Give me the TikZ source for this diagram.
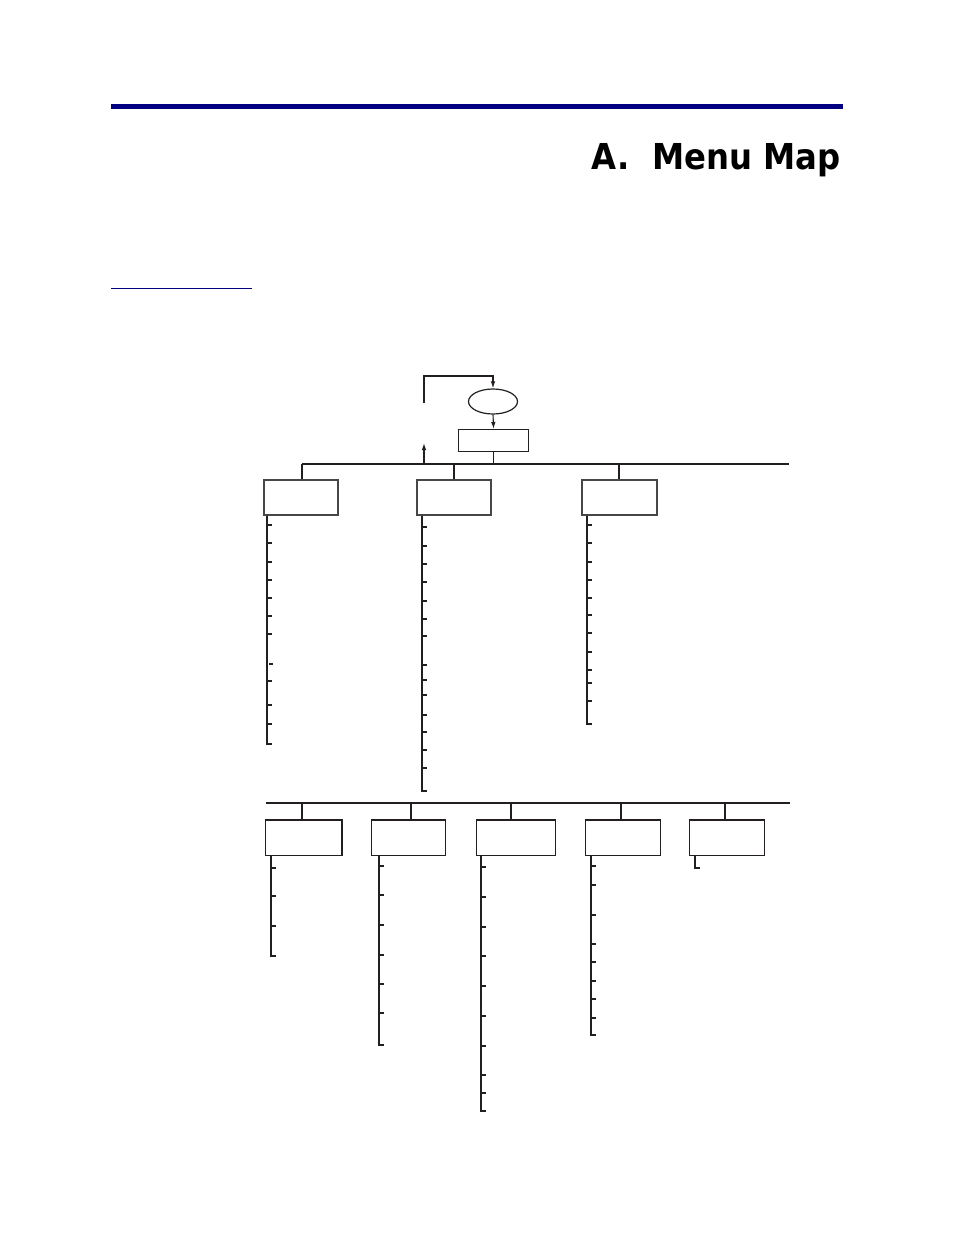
\documentclass[tikz,border=0pt]{standalone}
\usepackage{fontspec}
\newfontfamily\titlefont{DejaVu Sans}
\usetikzlibrary{arrows.meta,shapes.geometric}
\definecolor{barblue}{RGB}{0,0,128}
\definecolor{ink}{RGB}{35,31,32}
\begin{document}
\begin{tikzpicture}[x=1pt,y=-1pt,line width=1.1pt,draw=ink,
  topbox/.style={draw=black!72,line width=1.5pt,minimum width=74pt,minimum height=35pt,inner sep=0pt,anchor=north west},
  lowbox/.style={draw=ink,line width=1.2pt,minimum height=36pt,inner sep=0pt,anchor=north west},
  arr/.style={-{Latex[length=7pt,width=4.5pt]}},
  tick/.style={draw=ink,line width=1.1pt}]
\useasboundingbox (0,0) rectangle (954,1235);
% header
\fill[barblue] (111,104) rectangle (843,108.5);
\node[anchor=base east,inner sep=0pt,text=black] (title) at (841,169)
  {\scalebox{0.905}[1]{\titlefont\bfseries\fontsize{35.7}{40}\selectfont A.\ \ Menu Map}};
\draw[barblue,line width=1pt] (111,288) -- (252,288);
% top of tree
\node[ellipse,draw=ink,line width=1.2pt,minimum width=49pt,minimum height=25pt,inner sep=0pt] (start) at (493,401.5) {};
\node[draw=ink,line width=1.2pt,minimum width=70pt,minimum height=22pt,inner sep=0pt,anchor=north west] (main) at (458,429) {};
\coordinate (loopA) at (424,403);
\coordinate (loopB) at (424,376);
\draw[arr] (loopA) -- (loopB) -| (start.north);
\draw[arr] (start.south) -- (main.north);
\coordinate (busL) at (302,464);
\coordinate (busR) at (789,464);
\draw (busL) -- (busR);
\draw (main.south) -- (main.south |- busL);
\coordinate (upT) at (424,443);
\draw[arr] (upT |- busL) -- (upT);
% upper boxes
\node[topbox] (b1) at (263,479) {};
\node[topbox] (b2) at (416,479) {};
\node[topbox,minimum width=75pt] (b3) at (581,479) {};
\coordinate (d1) at (302,464);
\coordinate (d2) at (454,464);
\coordinate (d3) at (619,464);
\draw (d1) -- (d1 |- b1.north);
\draw (d2) -- (d2 |- b2.north);
\draw (d3) -- (d3 |- b3.north);
% spines upper
\coordinate (s1) at (267,744);
\draw (s1 |- b1.south) -- (s1) -- ++(4.5,0);
\foreach \t in {525,543,562,580,598,616,634,681,705,724} \draw[tick] (267,\t) -- ++(4.5,0);
\draw[tick] (269,664) -- ++(4,0);
\coordinate (s2) at (422,791);
\draw (s2 |- b2.south) -- (s2) -- ++(4.5,0);
\foreach \t in {527,546,564,582,601,619,636,665,680,695,715,732,750,768} \draw[tick] (422,\t) -- ++(4.5,0);
\coordinate (s3) at (587,724);
\draw (s3 |- b3.south) -- (s3) -- ++(4.5,0);
\foreach \t in {525,543,562,580,598,615,633,652,670,683,701} \draw[tick] (587,\t) -- ++(4.5,0);
% lower bus
\coordinate (lbL) at (266,803);
\coordinate (lbR) at (790,803);
\draw (lbL) -- (lbR);
\node[lowbox,minimum width=76pt] (b4) at (265,819) {};
\node[lowbox,minimum width=74pt] (b5) at (371,819) {};
\node[lowbox,minimum width=79pt] (b6) at (476,819) {};
\node[lowbox,minimum width=75pt] (b7) at (585,819) {};
\node[lowbox,minimum width=75pt] (b8) at (689,819) {};
\foreach \b in {b4,b5,b6,b7,b8} \draw[line width=2.2pt] ([yshift=-0.6pt]\b.north west) -- ([yshift=-0.6pt]\b.north east);
\draw[line width=2.2pt] ([xshift=-0.6pt]b4.north east) -- ([xshift=-0.6pt]b4.south east);
\coordinate (d4) at (302,803);
\coordinate (d5) at (411,803);
\coordinate (d6) at (511,803);
\coordinate (d7) at (621,803);
\coordinate (d8) at (725,803);
\foreach \d/\b in {d4/b4,d5/b5,d6/b6,d7/b7,d8/b8} \draw (\d) -- (\d |- \b.north);
% lower spines
\coordinate (s4) at (271,956);
\draw (s4 |- b4.south) -- (s4) -- ++(4.5,0);
\foreach \t in {868,896,926} \draw[tick] (271,\t) -- ++(4.5,0);
\coordinate (s5) at (379,1045);
\draw (s5 |- b5.south) -- (s5) -- ++(4.5,0);
\foreach \t in {866,895,925,955,984,1013} \draw[tick] (379,\t) -- ++(4.5,0);
\coordinate (s6) at (481,1111);
\draw (s6 |- b6.south) -- (s6) -- ++(4.5,0);
\foreach \t in {867,897,927,956,986,1016,1046,1075,1093} \draw[tick] (481,\t) -- ++(4.5,0);
\coordinate (s7) at (591,1035);
\draw (s7 |- b7.south) -- (s7) -- ++(4.5,0);
\foreach \t in {866,885,915,944,962,981,999,1018} \draw[tick] (591,\t) -- ++(4.5,0);
\coordinate (s8) at (695,868);
\draw (s8 |- b8.south) -- (s8) -- ++(4.5,0);
\end{tikzpicture}
\end{document}
